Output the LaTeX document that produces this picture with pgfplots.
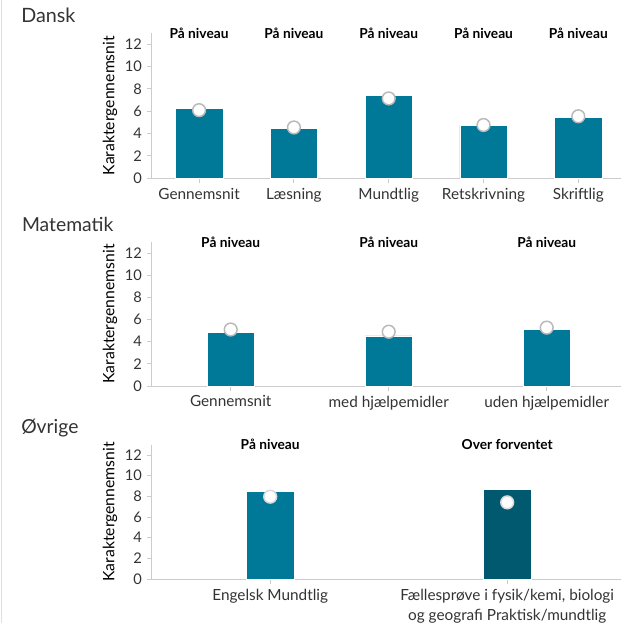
\documentclass[border=0pt]{standalone}
\usepackage{pgfplots}
\pgfplotsset{compat=1.18}
\usepackage{fontspec}
\setmainfont{Lato}
\definecolor{barc}{HTML}{007898}
\definecolor{bard}{HTML}{00596E}
\definecolor{axc}{HTML}{CCCCCC}
\definecolor{txt}{HTML}{333333}
\tikzset{toplab/.style={font=\fontsize{10.3}{12}\selectfont\bfseries, text=black, anchor=center}}
\pgfplotsset{
  panel/.style={
    scale only axis, width=355.5pt, ymin=0, ymax=13, ytick={0,2,...,12},
    axis x line*=bottom, axis y line*=left,
    axis line style={axc, line width=0.75pt, -},
    tick style={axc, line width=0.75pt},
    major tick length=3.75pt, tick align=outside,
    xticklabel style={font=\fontsize{11.5}{15}\selectfont, text=txt, align=center},
    yticklabel style={font=\fontsize{11}{12}\selectfont, text=txt},
    /pgf/number format/assume math mode=true,
    ylabel=Karaktergennemsnit,
    ylabel style={at={(axis description cs:-0.088,0.5)}, anchor=center, rotate=0, font=\fontsize{11.8}{12}\selectfont, text=black},
    clip=false, anchor=south west,
  },
  barplot/.style={ybar, bar width=35.5pt, fill=barc, draw=white, line width=0.3pt},
  dotplot/.style={only marks, mark=*, mark size=4.8pt, mark options={fill=white, draw=gray!55, line width=1.1pt}},
}
\begin{document}
\begin{tikzpicture}
\useasboundingbox (0,0) rectangle (465.75pt,-467.25pt);
\clip (0,0) rectangle (465.75pt,-467.25pt);
\draw[gray!25, line width=1pt] (1.2pt,0) -- (1.2pt,-467.25pt);
\node[anchor=base west, inner sep=0, font=\fontsize{14.8}{16}\selectfont, text=txt] at (15.75pt,-17.25pt) {Dansk};
\node[anchor=base west, inner sep=0, font=\fontsize{14.5}{16}\selectfont, text=txt] at (16.3pt,-173.8pt) {Matematik};
\node[anchor=base west, inner sep=0, font=\fontsize{14.5}{16}\selectfont, text=txt] at (15.75pt,-325pt) {Øvrige};

\begin{axis}[panel, at={(113.775pt,-133.725pt)}, height=108.9pt,
  xmin=-0.5, xmax=4.5, xtick={0,...,4},
  xticklabels={Gennemsnit,Læsning,Mundtlig,Retskrivning,Skriftlig}]
\addplot[barplot] coordinates {(0,6.27) (1,4.5) (2,7.43) (3,4.77) (4,5.45)};
\addplot[dotplot] coordinates {(0,6.1) (1,4.55) (2,7.15) (3,4.77) (4,5.55)};
\node[toplab] at (axis cs:0,13) {På niveau};
\node[toplab] at (axis cs:1,13) {På niveau};
\node[toplab] at (axis cs:2,13) {På niveau};
\node[toplab] at (axis cs:3,13) {På niveau};
\node[toplab] at (axis cs:4,13) {På niveau};
\end{axis}

\begin{axis}[panel, at={(113.775pt,-289.5pt)}, height=108pt,
  xmin=-0.5, xmax=2.5, xtick={0,...,2},
  xticklabels={Gennemsnit,med hjælpemidler,uden hjælpemidler}]
\addplot[barplot] coordinates {(0,4.82) (1,4.52) (2,5.13)};
\addplot[dotplot] coordinates {(0,5.1) (1,4.9) (2,5.27)};
\node[toplab] at (axis cs:0,13) {På niveau};
\node[toplab] at (axis cs:1,13) {På niveau};
\node[toplab] at (axis cs:2,13) {På niveau};
\end{axis}

\begin{axis}[panel, at={(113.775pt,-434.25pt)}, height=100.7pt,
  xmin=-0.5, xmax=1.5, xtick={0,1},
  xticklabels={Engelsk Mundtlig,{Fællesprøve i fysik/kemi, biologi\\og geografi Praktisk/mundtlig}}]
\addplot[barplot] coordinates {(0,8.52)};
\addplot[barplot, fill=bard] coordinates {(1,8.71)};
\addplot[dotplot, mark options={fill=white, draw=gray!30, line width=1.1pt}] coordinates {(0,7.97) (1,7.42)};
\node[toplab] at (axis cs:0,13) {På niveau};
\node[toplab] at (axis cs:1,13) {Over forventet};
\end{axis}
\end{tikzpicture}
\end{document}
